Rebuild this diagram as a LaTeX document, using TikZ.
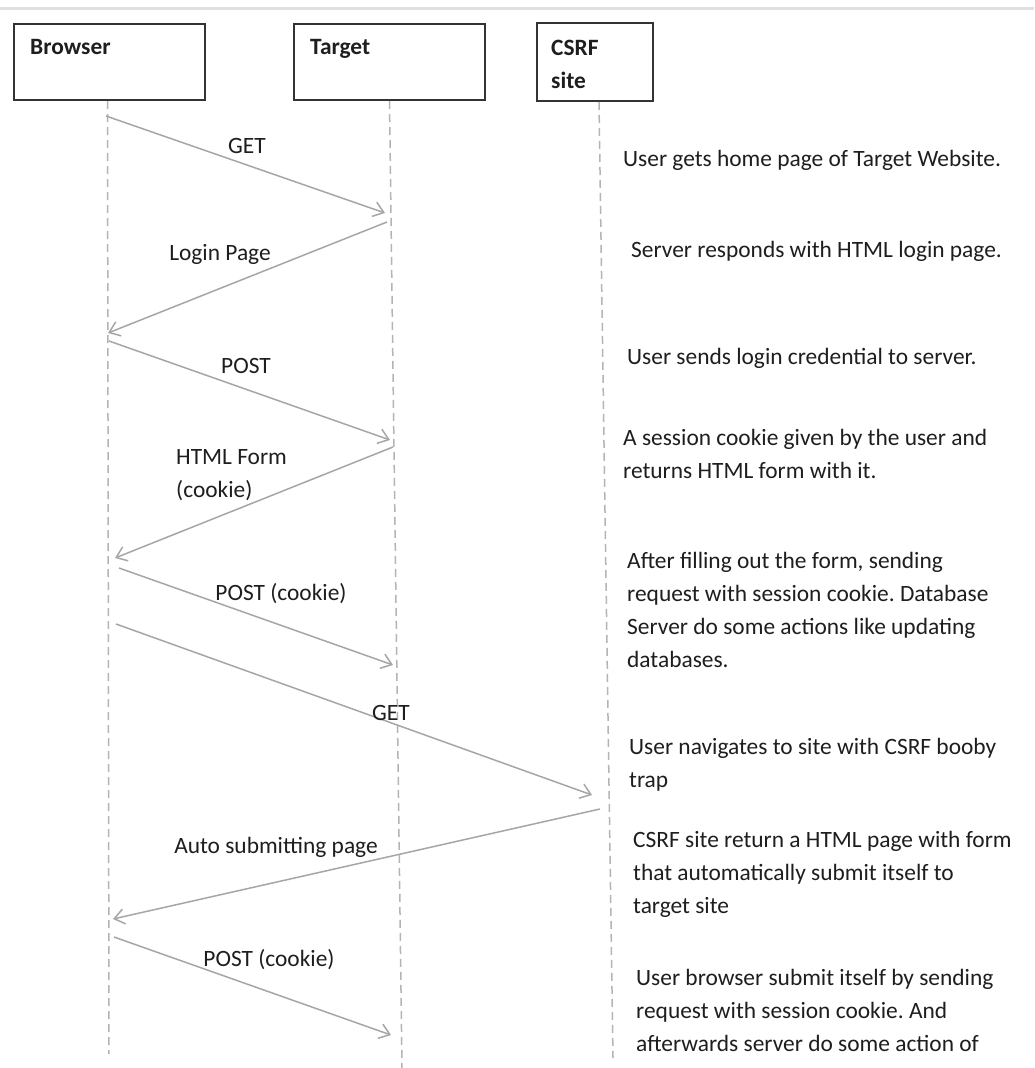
\documentclass[tikz,border=0pt]{standalone}
\usepackage{fontspec}
\setmainfont{Carlito}
\usetikzlibrary{arrows.meta}
\definecolor{txt}{HTML}{1E1E1E}
\definecolor{arr}{HTML}{A6A6A6}
\definecolor{life}{HTML}{B4B4B4}
\definecolor{boxc}{HTML}{333333}
\newcommand{\mylines}[1]{\begin{tabular}[t]{@{}l@{}}#1\end{tabular}}
\frenchspacing
\begin{document}
\begin{tikzpicture}[x=1pt,y=-1pt,
  every node/.style={font=\fontsize{23.4}{33}\selectfont, text=txt, inner sep=0pt},
  hdrbox/.style={draw=boxc, line width=2pt, anchor=north west, minimum height=76pt},
  title/.style={font=\fontsize{23.4}{33}\selectfont\bfseries, anchor=base west},
  lifeline/.style={draw=life, line width=1.5pt, dash pattern=on 8pt off 5pt},
  msg/.style={draw=arr, line width=1.5pt, -{Straight Barb[length=10pt,width=15pt]}},
  lbl/.style={anchor=base},
  note/.style={anchor=base west}]
\useasboundingbox (0,0) rectangle (1034,1068);
\fill[white] (0,0) rectangle (1034,1068);
\draw[draw=black!12, line width=3pt] (0,8.5) -- (1034,8.5);

% header boxes
\node (browser) [hdrbox, minimum width=191pt] at (13,23) {};
\node (target) [hdrbox, minimum width=191pt] at (293,23) {};
\node (csrf) [hdrbox, minimum width=116pt, minimum height=78pt] at (536,22) {};
\node (tb) [title] at (30,54) {Browser};
\node (tt) [title] at (310,54) {Target};
\node (tc) [title] at (551,55) {\mylines{CSRF\\site}};

% lifeline ends
\coordinate (bEnd) at (109,1054);
\coordinate (tEnd) at (402,1068);
\coordinate (cEnd) at (613,1058);
\draw[lifeline] ([xshift=-2pt]browser.south) -- (bEnd);
\draw[lifeline] (target.south) -- (tEnd);
\draw[lifeline] ([xshift=4pt]csrf.south) -- (cEnd);

% message end points
\coordinate (m1s) at (106,116);  \coordinate (m1e) at (385,213);
\coordinate (m2s) at (387,222);  \coordinate (m2e) at (108,333);
\coordinate (m3s) at (109,341);  \coordinate (m3e) at (390,440);
\coordinate (m4s) at (393,447);  \coordinate (m4e) at (115,558);
\coordinate (m5s) at (119,568);  \coordinate (m5e) at (393,665);
\coordinate (m6s) at (116,624);  \coordinate (m6e) at (592,795);
\coordinate (m7s) at (600,809);  \coordinate (m7e) at (113,919);
\coordinate (m8s) at (114,937);  \coordinate (m8e) at (391,1035);

\draw[msg] (m1s) -- (m1e);
\draw[msg] (m2s) -- (m2e);
\draw[msg] (m3s) -- (m3e);
\draw[msg] (m4s) -- (m4e);
\draw[msg] (m5s) -- (m5e);
\draw[msg] (m6s) -- (m6e);
\draw[msg] (m7s) -- (m7e);
\draw[msg] (m8s) -- (m8e);

% message labels
\node (l1) [lbl] at (247,153) {GET};
\node (l2) [lbl] at (220,260) {Login Page};
\node (l3) [lbl] at (246,373) {POST};
\node (l4) [anchor=base west] at (176,464) {\mylines{HTML Form\\(cookie)}};
\node (l5) [lbl] at (281,600) {POST (cookie)};
\node (l6) [lbl] at (391,720) {GET};
\node (l7) [lbl] at (276,853) {Auto submitting page};
\node (l8) [lbl] at (269,966) {POST (cookie)};

% notes
\node (n1) [note] at (623,166) {User gets home page of Target Website.};
\node (n2) [note] at (631,257) {Server responds with HTML login page.};
\node (n3) [note] at (627,364) {User sends login credential to server.};
\node (n4) [note] at (623,445) {\mylines{A session cookie given by the user and\\returns HTML form with it.}};
\node (n5) [note] at (627,568) {\mylines{After filling out the form, sending\\request with session cookie. Database\\Server do some actions like updating\\databases.}};
\node (n6) [note] at (629,754) {\mylines{User navigates to site with CSRF booby\\trap}};
\node (n7) [note] at (633,847) {\mylines{CSRF site return a HTML page with form\\that automatically submit itself to\\target site}};
\node (n8) [note] at (636,985) {\mylines{User browser submit itself by sending\\request with session cookie. And\\afterwards server do some action of}};
\end{tikzpicture}
\end{document}
